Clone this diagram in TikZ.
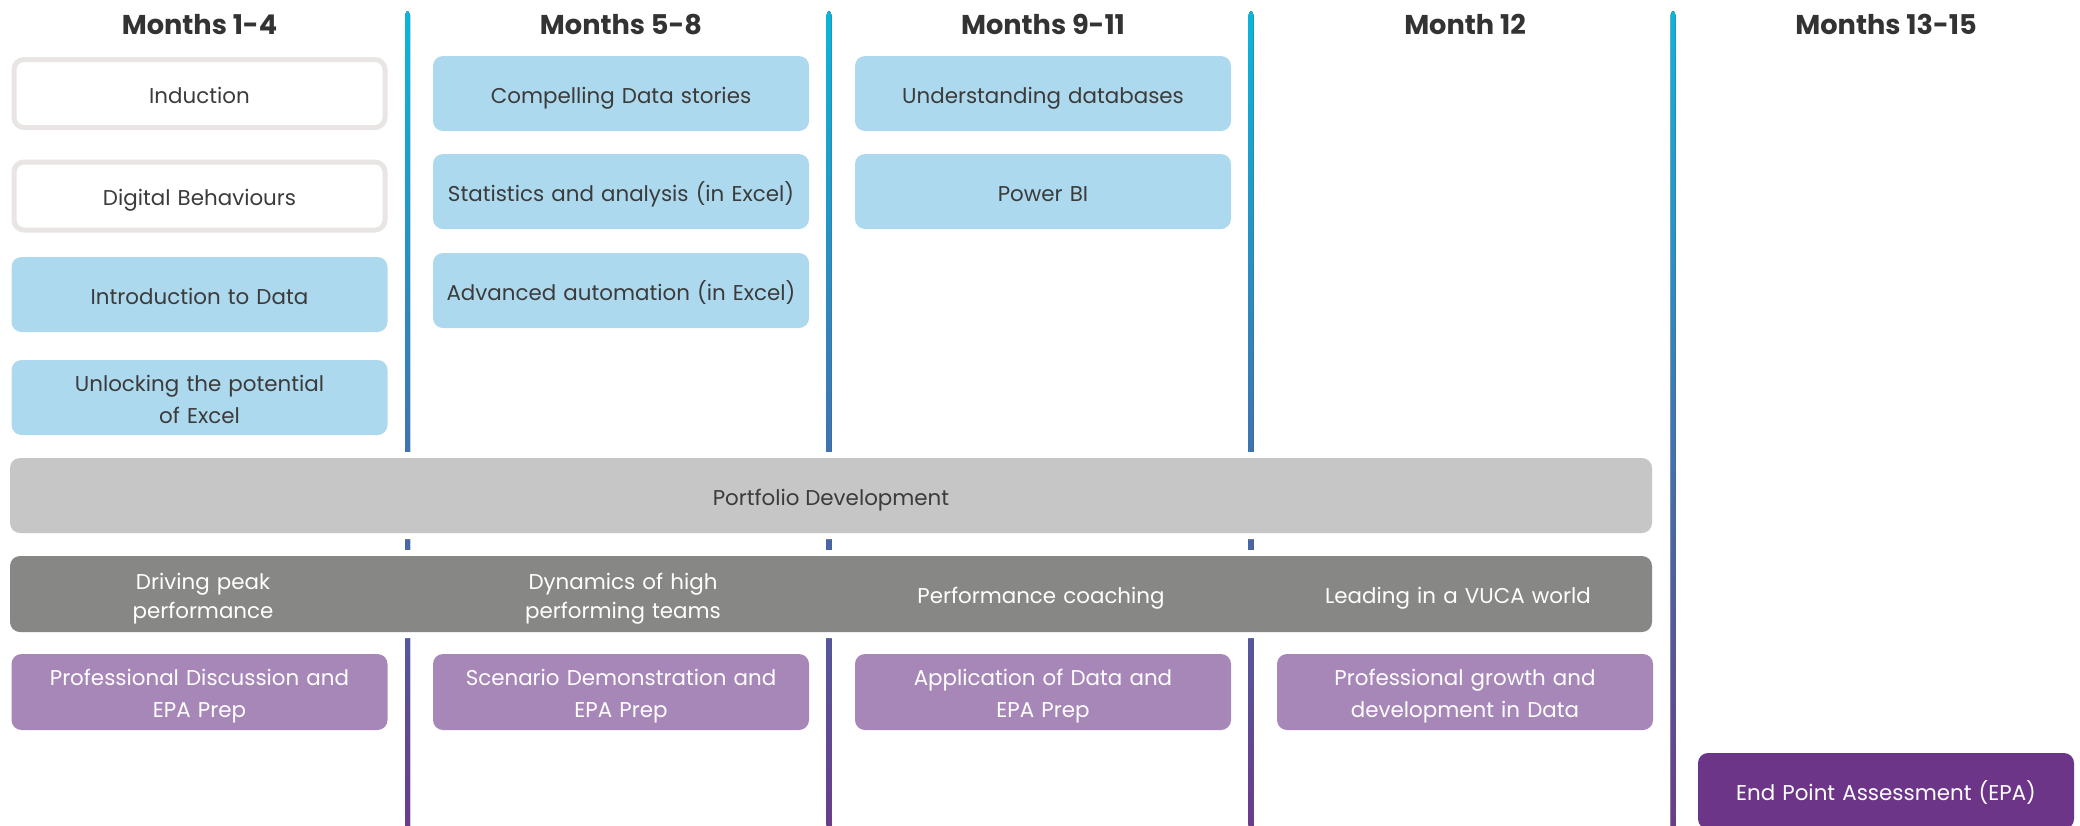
\documentclass[tikz,border=0pt]{standalone}
\usepackage{fontspec}
\setmainfont{Poppins}
\usepackage{tikz}
\usetikzlibrary{shapes,arrows}

\begin{document}
\begin{tikzpicture}[x=0.5pt,y=-0.5pt,
  boxStrut/.style={execute at begin node={\rule{0pt}{13pt}},execute at end node={\rule[-3.4pt]{0pt}{3.4pt}}},
  monthHead/.style={anchor=base,font=\fontsize{13.6}{16}\selectfont\bfseries,text=headColor},
  modBox/.style={boxStrut,rounded corners=5pt,minimum width=188pt,text width=188pt,minimum height=37.5pt,inner sep=0pt,
    align=center,font=\fontsize{10.7}{16}\selectfont,text=txtColor,fill=modColor},
  introBox/.style={modBox,fill=white,draw=introEdge,line width=2.5pt,minimum width=185.5pt,text width=185.5pt,minimum height=34pt},
  barBox/.style={rounded corners=5pt,minimum width=821pt,inner sep=0pt,preaction={draw=white,line width=6pt}},
  coachLabel/.style={boxStrut,align=center,text width=190pt,inner sep=0pt,font=\fontsize{10.7}{14.6}\selectfont,text=white},
  prepBox/.style={modBox,fill=prepColor,text=white,minimum height=38pt},
  epaBox/.style={prepBox,fill=epaColor}]
\useasboundingbox (0,0) rectangle (2080,825);
\definecolor{headColor}{RGB}{51,51,51}
\definecolor{txtColor}{RGB}{59,59,59}
\definecolor{modColor}{RGB}{173,217,238}
\definecolor{introEdge}{RGB}{232,229,228}
\definecolor{portColor}{RGB}{198,198,198}
\definecolor{coachColor}{RGB}{135,135,133}
\definecolor{prepColor}{RGB}{167,135,184}
\definecolor{epaColor}{RGB}{108,53,136}
\definecolor{lineTop}{RGB}{9,182,222}
\definecolor{lineMid}{RGB}{91,116,186}
\definecolor{lineBot}{RGB}{108,58,140}
\foreach \lx in {407.5,829,1251,1673}
  \fill[rounded corners=2pt,top color=lineTop,middle color=lineMid,bottom color=lineBot] (\lx-2.5,11) rectangle (\lx+2.5,830);
\node[monthHead] (head1) at (199.5,34) {Months 1-4};
\node[monthHead] (head2) at (621,34) {Months 5-8};
\node[monthHead] (head3) at (1043,34) {Months 9-11};
\node[monthHead] (head4) at (1465,34) {Month 12};
\node[monthHead] (head5) at (1886,34) {Months 13-15};
\node[introBox] (induction) at (199.5,93.5) {Induction};
\node[introBox] (digital) at (199.5,196) {Digital Behaviours};
\node[modBox] (introdata) at (199.5,294.5) {Introduction to Data};
\node[modBox] (excel) at (199.5,397.5) {Unlocking the potential\\of Excel};
\node[modBox] (stories) at (621,93.5) {Compelling Data stories};
\node[modBox] (stats) at (621,191.5) {Statistics and analysis (in Excel)};
\node[modBox] (automation) at (621,290.5) {Advanced automation (in Excel)};
\node[modBox] (databases) at (1043,93.5) {Understanding databases};
\node[modBox] (powerbi) at (1043,191.5) {Power BI};
\node[barBox,boxStrut,fill=portColor,minimum height=37.5pt,font=\fontsize{10.7}{16}\selectfont,text=txtColor] (portfolio) at (831,495.5) {Portfolio Development};
\node[barBox,fill=coachColor,minimum height=38pt] (coaching) at (831,594) {};
\node[coachLabel] (peak) at (203,594) {Driving peak\\performance};
\node[coachLabel] (teams) at (623,594) {Dynamics of high\\performing teams};
\node[coachLabel] (perfcoach) at (1041,594) {Performance coaching};
\node[coachLabel] (vuca) at (1458,594) {Leading in a VUCA world};
\node[prepBox] (prep1) at (199.5,692) {Professional Discussion and\\EPA Prep};
\node[prepBox] (prep2) at (621,692) {Scenario Demonstration and\\EPA Prep};
\node[prepBox] (prep3) at (1043,692) {Application of Data and\\EPA Prep};
\node[prepBox] (prep4) at (1465,692) {Professional growth and\\development in Data};
\node[epaBox] (epa) at (1886,791) {End Point Assessment (EPA)};
\end{tikzpicture}
\end{document}
